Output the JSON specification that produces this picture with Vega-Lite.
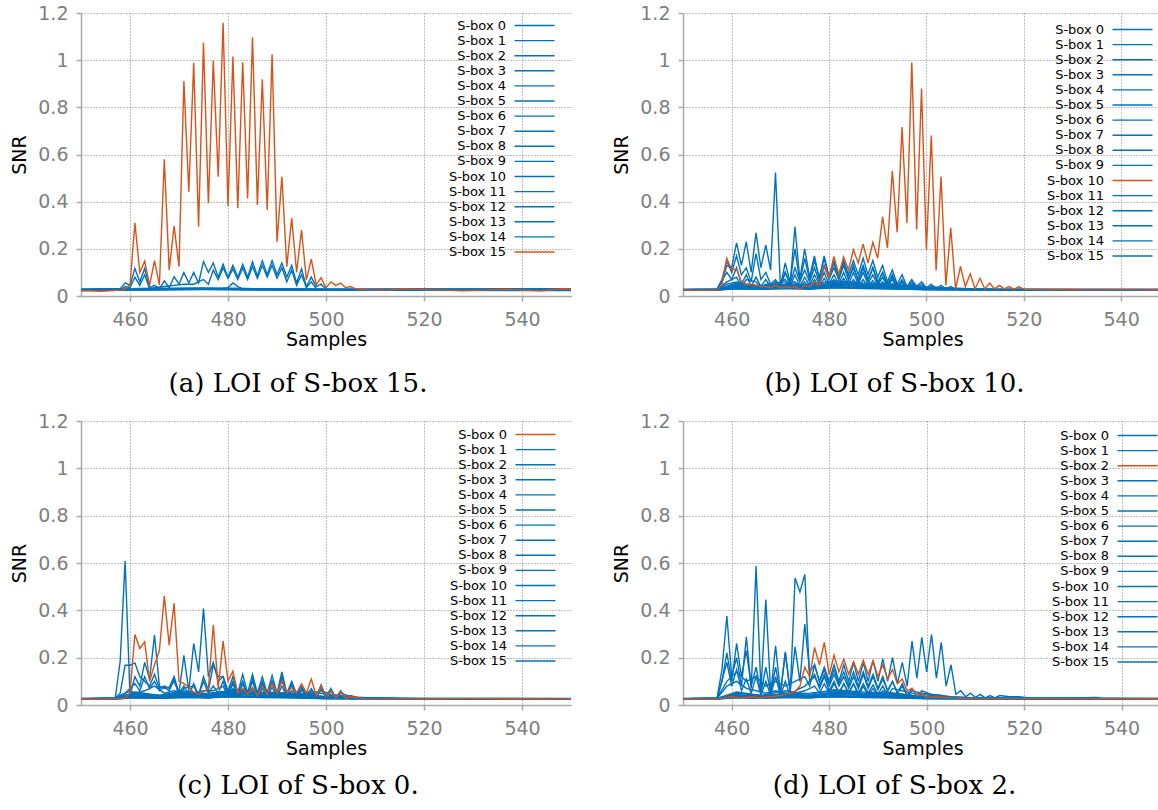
{
"$schema": "https://vega.github.io/schema/vega-lite/v6.json",
"padding": {"left": 10, "top": 4, "right": 0, "bottom": 0},
"config": {
"view": {"stroke": null},
"font": "DejaVu Sans",
"line": {"strokeWidth": 1.4, "clip": true},
"axis": {"labelFont": "DejaVu Sans", "labelFontSize": 19, "labelColor": "#808080", "titleFont": "DejaVu Sans", "titleFontSize": 19, "titleFontWeight": "normal", "titleColor": "#000000", "gridColor": "#808080", "gridDash": [1, 2], "gridWidth": 1, "domainColor": "#aaaaaa", "domainWidth": 1.5, "tickColor": "#aaaaaa", "tickSize": 5, "tickWidth": 1.5, "labelFlush": false, "labelOverlap": false},
"axisX": {"labelPadding": 9, "titlePadding": 1},
"axisY": {"labelPadding": 8, "titlePadding": 8},
"title": {"orient": "bottom", "font": "DejaVu Serif", "fontSize": 26, "fontWeight": "normal", "color": "#000000", "offset": 22, "frame": "group", "anchor": "middle"},
"legend": {"symbolType": "M-4,0L4,0", "symbolSize": 100, "symbolStrokeWidth": 1.5, "labelAlign": "right", "labelOffset": -35, "labelFontSize": 13, "labelFont": "DejaVu Sans", "labelColor": "#000000", "rowPadding": 1.1, "padding": 0}
},
"datasets": {
"a": [
{"s":0,"x":450,"y":0.028},{"s":0,"x":462,"y":0.03},{"s":0,"x":475,"y":0.031},{"s":0,"x":488,"y":0.029},{"s":0,"x":500,"y":0.027},{"s":0,"x":525,"y":0.028},{"s":0,"x":550,"y":0.027},
{"s":1,"x":450,"y":0.026},{"s":1,"x":462,"y":0.028},{"s":1,"x":475,"y":0.03},{"s":1,"x":488,"y":0.028},{"s":1,"x":500,"y":0.026},{"s":1,"x":525,"y":0.027},{"s":1,"x":550,"y":0.026},
{"s":2,"x":450,"y":0.025},{"s":2,"x":470,"y":0.028},{"s":2,"x":478,"y":0.03},{"s":2,"x":480,"y":0.035},{"s":2,"x":481,"y":0.055},{"s":2,"x":482,"y":0.04},{"s":2,"x":483,"y":0.03},{"s":2,"x":490,"y":0.028},{"s":2,"x":510,"y":0.027},{"s":2,"x":530,"y":0.026},{"s":2,"x":550,"y":0.027},
{"s":3,"x":450,"y":0.024},{"s":3,"x":462,"y":0.026},{"s":3,"x":475,"y":0.028},{"s":3,"x":488,"y":0.027},{"s":3,"x":500,"y":0.025},{"s":3,"x":525,"y":0.026},{"s":3,"x":550,"y":0.024},
{"s":4,"x":450,"y":0.027},{"s":4,"x":462,"y":0.032},{"s":4,"x":475,"y":0.033},{"s":4,"x":488,"y":0.03},{"s":4,"x":500,"y":0.028},{"s":4,"x":525,"y":0.027},{"s":4,"x":550,"y":0.028},
{"s":5,"x":450,"y":0.025},{"s":5,"x":462,"y":0.027},{"s":5,"x":475,"y":0.029},{"s":5,"x":488,"y":0.027},{"s":5,"x":500,"y":0.025},{"s":5,"x":525,"y":0.025},{"s":5,"x":550,"y":0.026},
{"s":6,"x":450,"y":0.028},{"s":6,"x":455,"y":0.028},{"s":6,"x":458,"y":0.03},{"s":6,"x":459,"y":0.056},{"s":6,"x":460,"y":0.045},{"s":6,"x":461,"y":0.117},{"s":6,"x":462,"y":0.06},{"s":6,"x":463,"y":0.117},{"s":6,"x":464,"y":0.035},{"s":6,"x":465,"y":0.045},{"s":6,"x":466,"y":0.03},{"s":6,"x":467,"y":0.065},{"s":6,"x":468,"y":0.035},{"s":6,"x":469,"y":0.082},{"s":6,"x":470,"y":0.05},{"s":6,"x":471,"y":0.1},{"s":6,"x":472,"y":0.055},{"s":6,"x":473,"y":0.1},{"s":6,"x":474,"y":0.055},{"s":6,"x":475,"y":0.146},{"s":6,"x":476,"y":0.1},{"s":6,"x":477,"y":0.14},{"s":6,"x":478,"y":0.08},{"s":6,"x":479,"y":0.135},{"s":6,"x":480,"y":0.08},{"s":6,"x":481,"y":0.13},{"s":6,"x":482,"y":0.08},{"s":6,"x":483,"y":0.135},{"s":6,"x":484,"y":0.08},{"s":6,"x":485,"y":0.145},{"s":6,"x":486,"y":0.085},{"s":6,"x":487,"y":0.15},{"s":6,"x":488,"y":0.09},{"s":6,"x":489,"y":0.15},{"s":6,"x":490,"y":0.09},{"s":6,"x":491,"y":0.14},{"s":6,"x":492,"y":0.08},{"s":6,"x":493,"y":0.13},{"s":6,"x":494,"y":0.055},{"s":6,"x":495,"y":0.115},{"s":6,"x":496,"y":0.04},{"s":6,"x":497,"y":0.08},{"s":6,"x":498,"y":0.04},{"s":6,"x":499,"y":0.05},{"s":6,"x":500,"y":0.03},{"s":6,"x":505,"y":0.028},{"s":6,"x":520,"y":0.03},{"s":6,"x":535,"y":0.028},{"s":6,"x":550,"y":0.03},
{"s":7,"x":450,"y":0.029},{"s":7,"x":462,"y":0.03},{"s":7,"x":475,"y":0.032},{"s":7,"x":488,"y":0.031},{"s":7,"x":500,"y":0.029},{"s":7,"x":525,"y":0.029},{"s":7,"x":550,"y":0.03},
{"s":8,"x":450,"y":0.023},{"s":8,"x":462,"y":0.025},{"s":8,"x":475,"y":0.027},{"s":8,"x":488,"y":0.025},{"s":8,"x":500,"y":0.024},{"s":8,"x":525,"y":0.024},{"s":8,"x":550,"y":0.023},
{"s":9,"x":450,"y":0.027},{"s":9,"x":462,"y":0.029},{"s":9,"x":475,"y":0.03},{"s":9,"x":488,"y":0.028},{"s":9,"x":500,"y":0.027},{"s":9,"x":525,"y":0.028},{"s":9,"x":550,"y":0.027},
{"s":10,"x":450,"y":0.025},{"s":10,"x":462,"y":0.028},{"s":10,"x":475,"y":0.03},{"s":10,"x":488,"y":0.029},{"s":10,"x":500,"y":0.026},{"s":10,"x":525,"y":0.026},{"s":10,"x":550,"y":0.025},
{"s":11,"x":450,"y":0.026},{"s":11,"x":458,"y":0.026},{"s":11,"x":459,"y":0.04},{"s":11,"x":460,"y":0.035},{"s":11,"x":461,"y":0.08},{"s":11,"x":462,"y":0.045},{"s":11,"x":463,"y":0.09},{"s":11,"x":464,"y":0.03},{"s":11,"x":465,"y":0.035},{"s":11,"x":467,"y":0.04},{"s":11,"x":469,"y":0.045},{"s":11,"x":471,"y":0.05},{"s":11,"x":473,"y":0.05},{"s":11,"x":475,"y":0.07},{"s":11,"x":476,"y":0.05},{"s":11,"x":477,"y":0.11},{"s":11,"x":478,"y":0.07},{"s":11,"x":479,"y":0.12},{"s":11,"x":480,"y":0.075},{"s":11,"x":481,"y":0.115},{"s":11,"x":482,"y":0.07},{"s":11,"x":483,"y":0.12},{"s":11,"x":484,"y":0.07},{"s":11,"x":485,"y":0.125},{"s":11,"x":486,"y":0.075},{"s":11,"x":487,"y":0.13},{"s":11,"x":488,"y":0.08},{"s":11,"x":489,"y":0.13},{"s":11,"x":490,"y":0.075},{"s":11,"x":491,"y":0.12},{"s":11,"x":492,"y":0.06},{"s":11,"x":493,"y":0.11},{"s":11,"x":494,"y":0.045},{"s":11,"x":495,"y":0.09},{"s":11,"x":496,"y":0.035},{"s":11,"x":497,"y":0.06},{"s":11,"x":498,"y":0.03},{"s":11,"x":500,"y":0.028},{"s":11,"x":520,"y":0.027},{"s":11,"x":550,"y":0.028},
{"s":12,"x":450,"y":0.026},{"s":12,"x":462,"y":0.03},{"s":12,"x":475,"y":0.031},{"s":12,"x":488,"y":0.03},{"s":12,"x":500,"y":0.027},{"s":12,"x":525,"y":0.028},{"s":12,"x":550,"y":0.027},
{"s":13,"x":450,"y":0.024},{"s":13,"x":462,"y":0.027},{"s":13,"x":475,"y":0.029},{"s":13,"x":488,"y":0.027},{"s":13,"x":500,"y":0.025},{"s":13,"x":525,"y":0.025},{"s":13,"x":550,"y":0.025},
{"s":14,"x":450,"y":0.028},{"s":14,"x":462,"y":0.031},{"s":14,"x":475,"y":0.033},{"s":14,"x":488,"y":0.03},{"s":14,"x":500,"y":0.028},{"s":14,"x":525,"y":0.027},{"s":14,"x":550,"y":0.028},
{"s":15,"x":450,"y":0.022},{"s":15,"x":452,"y":0.022},{"s":15,"x":454,"y":0.02},{"s":15,"x":456,"y":0.022},{"s":15,"x":458,"y":0.025},{"s":15,"x":459,"y":0.03},{"s":15,"x":460,"y":0.047},{"s":15,"x":461,"y":0.31},{"s":15,"x":462,"y":0.1},{"s":15,"x":463,"y":0.148},{"s":15,"x":464,"y":0.045},{"s":15,"x":465,"y":0.15},{"s":15,"x":466,"y":0.047},{"s":15,"x":467,"y":0.58},{"s":15,"x":468,"y":0.11},{"s":15,"x":469,"y":0.297},{"s":15,"x":470,"y":0.124},{"s":15,"x":471,"y":0.912},{"s":15,"x":472,"y":0.442},{"s":15,"x":473,"y":0.989},{"s":15,"x":474,"y":0.294},{"s":15,"x":475,"y":1.074},{"s":15,"x":476,"y":0.393},{"s":15,"x":477,"y":0.997},{"s":15,"x":478,"y":0.506},{"s":15,"x":479,"y":1.159},{"s":15,"x":480,"y":0.382},{"s":15,"x":481,"y":1.015},{"s":15,"x":482,"y":0.372},{"s":15,"x":483,"y":0.991},{"s":15,"x":484,"y":0.414},{"s":15,"x":485,"y":1.097},{"s":15,"x":486,"y":0.386},{"s":15,"x":487,"y":0.919},{"s":15,"x":488,"y":0.365},{"s":15,"x":489,"y":1.025},{"s":15,"x":490,"y":0.23},{"s":15,"x":491,"y":0.506},{"s":15,"x":492,"y":0.124},{"s":15,"x":493,"y":0.33},{"s":15,"x":494,"y":0.1},{"s":15,"x":495,"y":0.28},{"s":15,"x":496,"y":0.068},{"s":15,"x":497,"y":0.156},{"s":15,"x":498,"y":0.047},{"s":15,"x":499,"y":0.078},{"s":15,"x":500,"y":0.035},{"s":15,"x":501,"y":0.06},{"s":15,"x":502,"y":0.045},{"s":15,"x":503,"y":0.055},{"s":15,"x":504,"y":0.035},{"s":15,"x":505,"y":0.04},{"s":15,"x":506,"y":0.03},{"s":15,"x":508,"y":0.027},{"s":15,"x":512,"y":0.025},{"s":15,"x":516,"y":0.03},{"s":15,"x":520,"y":0.027},{"s":15,"x":524,"y":0.025},{"s":15,"x":528,"y":0.022},{"s":15,"x":532,"y":0.025},{"s":15,"x":536,"y":0.028},{"s":15,"x":540,"y":0.025},{"s":15,"x":544,"y":0.022},{"s":15,"x":548,"y":0.03},{"s":15,"x":550,"y":0.03}
],
"b": [
{"s":0,"x":450,"y":0.026},{"s":0,"x":457,"y":0.027},{"s":0,"x":461,"y":0.045},{"s":0,"x":466,"y":0.035},{"s":0,"x":471,"y":0.05},{"s":0,"x":476,"y":0.04},{"s":0,"x":481,"y":0.055},{"s":0,"x":487,"y":0.045},{"s":0,"x":493,"y":0.05},{"s":0,"x":500,"y":0.032},{"s":0,"x":515,"y":0.027},{"s":0,"x":550,"y":0.027},
{"s":1,"x":450,"y":0.028},{"s":1,"x":457,"y":0.03},{"s":1,"x":458,"y":0.06},{"s":1,"x":459,"y":0.13},{"s":1,"x":460,"y":0.12},{"s":1,"x":461,"y":0.225},{"s":1,"x":462,"y":0.13},{"s":1,"x":463,"y":0.23},{"s":1,"x":464,"y":0.1},{"s":1,"x":465,"y":0.268},{"s":1,"x":466,"y":0.12},{"s":1,"x":467,"y":0.216},{"s":1,"x":468,"y":0.11},{"s":1,"x":469,"y":0.524},{"s":1,"x":470,"y":0.05},{"s":1,"x":471,"y":0.1},{"s":1,"x":472,"y":0.05},{"s":1,"x":473,"y":0.293},{"s":1,"x":474,"y":0.07},{"s":1,"x":475,"y":0.2},{"s":1,"x":476,"y":0.08},{"s":1,"x":477,"y":0.17},{"s":1,"x":478,"y":0.07},{"s":1,"x":479,"y":0.17},{"s":1,"x":480,"y":0.08},{"s":1,"x":481,"y":0.15},{"s":1,"x":482,"y":0.07},{"s":1,"x":483,"y":0.14},{"s":1,"x":484,"y":0.07},{"s":1,"x":485,"y":0.13},{"s":1,"x":486,"y":0.06},{"s":1,"x":487,"y":0.12},{"s":1,"x":488,"y":0.06},{"s":1,"x":489,"y":0.12},{"s":1,"x":490,"y":0.05},{"s":1,"x":491,"y":0.1},{"s":1,"x":492,"y":0.04},{"s":1,"x":493,"y":0.08},{"s":1,"x":494,"y":0.035},{"s":1,"x":495,"y":0.06},{"s":1,"x":496,"y":0.03},{"s":1,"x":497,"y":0.05},{"s":1,"x":498,"y":0.03},{"s":1,"x":500,"y":0.03},{"s":1,"x":510,"y":0.028},{"s":1,"x":530,"y":0.027},{"s":1,"x":550,"y":0.028},
{"s":2,"x":450,"y":0.025},{"s":2,"x":457,"y":0.026},{"s":2,"x":461,"y":0.04},{"s":2,"x":466,"y":0.03},{"s":2,"x":471,"y":0.04},{"s":2,"x":476,"y":0.035},{"s":2,"x":481,"y":0.045},{"s":2,"x":487,"y":0.04},{"s":2,"x":493,"y":0.04},{"s":2,"x":500,"y":0.03},{"s":2,"x":515,"y":0.026},{"s":2,"x":550,"y":0.026},
{"s":3,"x":450,"y":0.027},{"s":3,"x":457,"y":0.028},{"s":3,"x":461,"y":0.05},{"s":3,"x":466,"y":0.04},{"s":3,"x":471,"y":0.045},{"s":3,"x":476,"y":0.05},{"s":3,"x":481,"y":0.06},{"s":3,"x":487,"y":0.05},{"s":3,"x":493,"y":0.045},{"s":3,"x":500,"y":0.035},{"s":3,"x":515,"y":0.028},{"s":3,"x":550,"y":0.027},
{"s":4,"x":450,"y":0.027},{"s":4,"x":457,"y":0.03},{"s":4,"x":458,"y":0.07},{"s":4,"x":459,"y":0.15},{"s":4,"x":460,"y":0.1},{"s":4,"x":461,"y":0.17},{"s":4,"x":462,"y":0.09},{"s":4,"x":463,"y":0.12},{"s":4,"x":464,"y":0.06},{"s":4,"x":465,"y":0.18},{"s":4,"x":466,"y":0.07},{"s":4,"x":467,"y":0.1},{"s":4,"x":468,"y":0.05},{"s":4,"x":469,"y":0.07},{"s":4,"x":470,"y":0.04},{"s":4,"x":471,"y":0.14},{"s":4,"x":472,"y":0.06},{"s":4,"x":473,"y":0.2},{"s":4,"x":474,"y":0.06},{"s":4,"x":475,"y":0.16},{"s":4,"x":476,"y":0.07},{"s":4,"x":477,"y":0.15},{"s":4,"x":478,"y":0.08},{"s":4,"x":479,"y":0.16},{"s":4,"x":480,"y":0.08},{"s":4,"x":481,"y":0.14},{"s":4,"x":482,"y":0.08},{"s":4,"x":483,"y":0.15},{"s":4,"x":484,"y":0.09},{"s":4,"x":485,"y":0.15},{"s":4,"x":486,"y":0.09},{"s":4,"x":487,"y":0.16},{"s":4,"x":488,"y":0.09},{"s":4,"x":489,"y":0.15},{"s":4,"x":490,"y":0.08},{"s":4,"x":491,"y":0.13},{"s":4,"x":492,"y":0.06},{"s":4,"x":493,"y":0.11},{"s":4,"x":494,"y":0.05},{"s":4,"x":495,"y":0.09},{"s":4,"x":496,"y":0.04},{"s":4,"x":497,"y":0.07},{"s":4,"x":498,"y":0.04},{"s":4,"x":499,"y":0.06},{"s":4,"x":500,"y":0.035},{"s":4,"x":501,"y":0.05},{"s":4,"x":502,"y":0.03},{"s":4,"x":503,"y":0.045},{"s":4,"x":504,"y":0.03},{"s":4,"x":505,"y":0.04},{"s":4,"x":506,"y":0.028},{"s":4,"x":510,"y":0.028},{"s":4,"x":550,"y":0.028},
{"s":5,"x":450,"y":0.026},{"s":5,"x":457,"y":0.026},{"s":5,"x":461,"y":0.035},{"s":5,"x":466,"y":0.03},{"s":5,"x":471,"y":0.035},{"s":5,"x":476,"y":0.03},{"s":5,"x":481,"y":0.04},{"s":5,"x":487,"y":0.035},{"s":5,"x":493,"y":0.035},{"s":5,"x":500,"y":0.028},{"s":5,"x":515,"y":0.026},{"s":5,"x":550,"y":0.027},
{"s":6,"x":450,"y":0.024},{"s":6,"x":457,"y":0.025},{"s":6,"x":461,"y":0.03},{"s":6,"x":466,"y":0.028},{"s":6,"x":471,"y":0.03},{"s":6,"x":476,"y":0.03},{"s":6,"x":481,"y":0.035},{"s":6,"x":487,"y":0.032},{"s":6,"x":493,"y":0.03},{"s":6,"x":500,"y":0.026},{"s":6,"x":515,"y":0.025},{"s":6,"x":550,"y":0.025},
{"s":7,"x":450,"y":0.027},{"s":7,"x":457,"y":0.028},{"s":7,"x":459,"y":0.1},{"s":7,"x":460,"y":0.07},{"s":7,"x":461,"y":0.12},{"s":7,"x":462,"y":0.05},{"s":7,"x":463,"y":0.09},{"s":7,"x":464,"y":0.04},{"s":7,"x":465,"y":0.08},{"s":7,"x":466,"y":0.04},{"s":7,"x":467,"y":0.07},{"s":7,"x":468,"y":0.04},{"s":7,"x":469,"y":0.06},{"s":7,"x":470,"y":0.035},{"s":7,"x":471,"y":0.1},{"s":7,"x":472,"y":0.05},{"s":7,"x":473,"y":0.12},{"s":7,"x":474,"y":0.06},{"s":7,"x":475,"y":0.11},{"s":7,"x":476,"y":0.06},{"s":7,"x":477,"y":0.12},{"s":7,"x":478,"y":0.06},{"s":7,"x":479,"y":0.13},{"s":7,"x":480,"y":0.07},{"s":7,"x":481,"y":0.12},{"s":7,"x":482,"y":0.07},{"s":7,"x":483,"y":0.13},{"s":7,"x":484,"y":0.07},{"s":7,"x":485,"y":0.12},{"s":7,"x":486,"y":0.07},{"s":7,"x":487,"y":0.13},{"s":7,"x":488,"y":0.07},{"s":7,"x":489,"y":0.12},{"s":7,"x":490,"y":0.06},{"s":7,"x":491,"y":0.1},{"s":7,"x":492,"y":0.05},{"s":7,"x":493,"y":0.09},{"s":7,"x":494,"y":0.04},{"s":7,"x":495,"y":0.07},{"s":7,"x":496,"y":0.035},{"s":7,"x":497,"y":0.06},{"s":7,"x":498,"y":0.03},{"s":7,"x":499,"y":0.05},{"s":7,"x":500,"y":0.03},{"s":7,"x":501,"y":0.04},{"s":7,"x":503,"y":0.035},{"s":7,"x":505,"y":0.03},{"s":7,"x":510,"y":0.027},{"s":7,"x":550,"y":0.027},
{"s":8,"x":450,"y":0.028},{"s":8,"x":457,"y":0.028},{"s":8,"x":461,"y":0.055},{"s":8,"x":466,"y":0.04},{"s":8,"x":471,"y":0.06},{"s":8,"x":476,"y":0.045},{"s":8,"x":481,"y":0.065},{"s":8,"x":487,"y":0.055},{"s":8,"x":493,"y":0.05},{"s":8,"x":500,"y":0.035},{"s":8,"x":515,"y":0.028},{"s":8,"x":550,"y":0.028},
{"s":9,"x":450,"y":0.025},{"s":9,"x":457,"y":0.026},{"s":9,"x":461,"y":0.038},{"s":9,"x":466,"y":0.034},{"s":9,"x":471,"y":0.042},{"s":9,"x":476,"y":0.036},{"s":9,"x":481,"y":0.05},{"s":9,"x":487,"y":0.042},{"s":9,"x":493,"y":0.038},{"s":9,"x":500,"y":0.03},{"s":9,"x":515,"y":0.026},{"s":9,"x":550,"y":0.026},
{"s":11,"x":450,"y":0.027},{"s":11,"x":457,"y":0.027},{"s":11,"x":461,"y":0.033},{"s":11,"x":466,"y":0.03},{"s":11,"x":471,"y":0.036},{"s":11,"x":476,"y":0.032},{"s":11,"x":481,"y":0.038},{"s":11,"x":487,"y":0.034},{"s":11,"x":493,"y":0.032},{"s":11,"x":500,"y":0.028},{"s":11,"x":515,"y":0.027},{"s":11,"x":550,"y":0.027},
{"s":12,"x":450,"y":0.027},{"s":12,"x":457,"y":0.027},{"s":12,"x":459,"y":0.06},{"s":12,"x":461,"y":0.08},{"s":12,"x":462,"y":0.04},{"s":12,"x":463,"y":0.07},{"s":12,"x":465,"y":0.06},{"s":12,"x":466,"y":0.035},{"s":12,"x":467,"y":0.05},{"s":12,"x":469,"y":0.05},{"s":12,"x":471,"y":0.07},{"s":12,"x":472,"y":0.04},{"s":12,"x":473,"y":0.09},{"s":12,"x":474,"y":0.04},{"s":12,"x":475,"y":0.08},{"s":12,"x":476,"y":0.045},{"s":12,"x":477,"y":0.09},{"s":12,"x":478,"y":0.05},{"s":12,"x":479,"y":0.1},{"s":12,"x":480,"y":0.05},{"s":12,"x":481,"y":0.09},{"s":12,"x":482,"y":0.05},{"s":12,"x":483,"y":0.1},{"s":12,"x":484,"y":0.05},{"s":12,"x":485,"y":0.1},{"s":12,"x":486,"y":0.05},{"s":12,"x":487,"y":0.1},{"s":12,"x":488,"y":0.05},{"s":12,"x":489,"y":0.09},{"s":12,"x":490,"y":0.045},{"s":12,"x":491,"y":0.08},{"s":12,"x":492,"y":0.04},{"s":12,"x":493,"y":0.07},{"s":12,"x":494,"y":0.035},{"s":12,"x":495,"y":0.06},{"s":12,"x":496,"y":0.03},{"s":12,"x":497,"y":0.05},{"s":12,"x":499,"y":0.04},{"s":12,"x":501,"y":0.035},{"s":12,"x":505,"y":0.03},{"s":12,"x":515,"y":0.027},{"s":12,"x":550,"y":0.027},
{"s":13,"x":450,"y":0.026},{"s":13,"x":457,"y":0.027},{"s":13,"x":461,"y":0.042},{"s":13,"x":466,"y":0.036},{"s":13,"x":471,"y":0.048},{"s":13,"x":476,"y":0.038},{"s":13,"x":481,"y":0.052},{"s":13,"x":487,"y":0.046},{"s":13,"x":493,"y":0.044},{"s":13,"x":500,"y":0.031},{"s":13,"x":515,"y":0.027},{"s":13,"x":550,"y":0.026},
{"s":14,"x":450,"y":0.026},{"s":14,"x":457,"y":0.027},{"s":14,"x":459,"y":0.05},{"s":14,"x":461,"y":0.06},{"s":14,"x":463,"y":0.05},{"s":14,"x":465,"y":0.045},{"s":14,"x":467,"y":0.04},{"s":14,"x":469,"y":0.04},{"s":14,"x":471,"y":0.05},{"s":14,"x":473,"y":0.06},{"s":14,"x":474,"y":0.035},{"s":14,"x":475,"y":0.06},{"s":14,"x":476,"y":0.035},{"s":14,"x":477,"y":0.07},{"s":14,"x":478,"y":0.04},{"s":14,"x":479,"y":0.075},{"s":14,"x":480,"y":0.04},{"s":14,"x":481,"y":0.07},{"s":14,"x":482,"y":0.04},{"s":14,"x":483,"y":0.075},{"s":14,"x":484,"y":0.04},{"s":14,"x":485,"y":0.07},{"s":14,"x":486,"y":0.04},{"s":14,"x":487,"y":0.07},{"s":14,"x":488,"y":0.04},{"s":14,"x":489,"y":0.065},{"s":14,"x":490,"y":0.035},{"s":14,"x":491,"y":0.06},{"s":14,"x":492,"y":0.035},{"s":14,"x":493,"y":0.05},{"s":14,"x":495,"y":0.045},{"s":14,"x":497,"y":0.04},{"s":14,"x":500,"y":0.03},{"s":14,"x":505,"y":0.028},{"s":14,"x":550,"y":0.027},
{"s":15,"x":450,"y":0.025},{"s":15,"x":457,"y":0.025},{"s":15,"x":461,"y":0.032},{"s":15,"x":466,"y":0.029},{"s":15,"x":471,"y":0.034},{"s":15,"x":476,"y":0.031},{"s":15,"x":481,"y":0.036},{"s":15,"x":487,"y":0.033},{"s":15,"x":493,"y":0.031},{"s":15,"x":500,"y":0.027},{"s":15,"x":515,"y":0.025},{"s":15,"x":550,"y":0.025},
{"s":10,"x":450,"y":0.025},{"s":10,"x":454,"y":0.024},{"s":10,"x":457,"y":0.026},{"s":10,"x":458,"y":0.047},{"s":10,"x":459,"y":0.16},{"s":10,"x":460,"y":0.11},{"s":10,"x":461,"y":0.114},{"s":10,"x":462,"y":0.06},{"s":10,"x":463,"y":0.05},{"s":10,"x":464,"y":0.05},{"s":10,"x":465,"y":0.045},{"s":10,"x":466,"y":0.04},{"s":10,"x":467,"y":0.04},{"s":10,"x":468,"y":0.035},{"s":10,"x":469,"y":0.045},{"s":10,"x":470,"y":0.035},{"s":10,"x":471,"y":0.04},{"s":10,"x":472,"y":0.035},{"s":10,"x":473,"y":0.04},{"s":10,"x":474,"y":0.028},{"s":10,"x":475,"y":0.045},{"s":10,"x":476,"y":0.04},{"s":10,"x":477,"y":0.061},{"s":10,"x":478,"y":0.046},{"s":10,"x":479,"y":0.125},{"s":10,"x":480,"y":0.08},{"s":10,"x":481,"y":0.168},{"s":10,"x":482,"y":0.093},{"s":10,"x":483,"y":0.165},{"s":10,"x":484,"y":0.11},{"s":10,"x":485,"y":0.196},{"s":10,"x":486,"y":0.14},{"s":10,"x":487,"y":0.22},{"s":10,"x":488,"y":0.14},{"s":10,"x":489,"y":0.227},{"s":10,"x":490,"y":0.16},{"s":10,"x":491,"y":0.336},{"s":10,"x":492,"y":0.204},{"s":10,"x":493,"y":0.53},{"s":10,"x":494,"y":0.27},{"s":10,"x":495,"y":0.716},{"s":10,"x":496,"y":0.31},{"s":10,"x":497,"y":0.99},{"s":10,"x":498,"y":0.282},{"s":10,"x":499,"y":0.88},{"s":10,"x":500,"y":0.196},{"s":10,"x":501,"y":0.68},{"s":10,"x":502,"y":0.108},{"s":10,"x":503,"y":0.507},{"s":10,"x":504,"y":0.045},{"s":10,"x":505,"y":0.289},{"s":10,"x":506,"y":0.03},{"s":10,"x":507,"y":0.125},{"s":10,"x":508,"y":0.04},{"s":10,"x":509,"y":0.094},{"s":10,"x":510,"y":0.03},{"s":10,"x":511,"y":0.075},{"s":10,"x":512,"y":0.03},{"s":10,"x":513,"y":0.055},{"s":10,"x":514,"y":0.03},{"s":10,"x":515,"y":0.045},{"s":10,"x":516,"y":0.03},{"s":10,"x":517,"y":0.04},{"s":10,"x":518,"y":0.028},{"s":10,"x":519,"y":0.04},{"s":10,"x":520,"y":0.028},{"s":10,"x":525,"y":0.027},{"s":10,"x":530,"y":0.028},{"s":10,"x":535,"y":0.026},{"s":10,"x":540,"y":0.027},{"s":10,"x":545,"y":0.026},{"s":10,"x":550,"y":0.027}
],
"c": [
{"s":1,"x":450,"y":0.027},{"s":1,"x":457,"y":0.03},{"s":1,"x":458,"y":0.186},{"s":1,"x":459,"y":0.608},{"s":1,"x":460,"y":0.04},{"s":1,"x":461,"y":0.12},{"s":1,"x":462,"y":0.08},{"s":1,"x":463,"y":0.18},{"s":1,"x":464,"y":0.11},{"s":1,"x":465,"y":0.295},{"s":1,"x":466,"y":0.08},{"s":1,"x":467,"y":0.07},{"s":1,"x":468,"y":0.075},{"s":1,"x":469,"y":0.12},{"s":1,"x":470,"y":0.05},{"s":1,"x":471,"y":0.21},{"s":1,"x":472,"y":0.06},{"s":1,"x":473,"y":0.26},{"s":1,"x":474,"y":0.14},{"s":1,"x":475,"y":0.408},{"s":1,"x":476,"y":0.12},{"s":1,"x":477,"y":0.18},{"s":1,"x":478,"y":0.1},{"s":1,"x":479,"y":0.12},{"s":1,"x":480,"y":0.06},{"s":1,"x":481,"y":0.12},{"s":1,"x":482,"y":0.05},{"s":1,"x":483,"y":0.13},{"s":1,"x":484,"y":0.05},{"s":1,"x":485,"y":0.13},{"s":1,"x":486,"y":0.05},{"s":1,"x":487,"y":0.12},{"s":1,"x":488,"y":0.05},{"s":1,"x":489,"y":0.125},{"s":1,"x":490,"y":0.05},{"s":1,"x":491,"y":0.14},{"s":1,"x":492,"y":0.05},{"s":1,"x":493,"y":0.1},{"s":1,"x":494,"y":0.045},{"s":1,"x":495,"y":0.08},{"s":1,"x":496,"y":0.04},{"s":1,"x":497,"y":0.07},{"s":1,"x":498,"y":0.035},{"s":1,"x":499,"y":0.085},{"s":1,"x":500,"y":0.035},{"s":1,"x":501,"y":0.07},{"s":1,"x":502,"y":0.03},{"s":1,"x":503,"y":0.06},{"s":1,"x":504,"y":0.03},{"s":1,"x":505,"y":0.04},{"s":1,"x":507,"y":0.028},{"s":1,"x":520,"y":0.027},{"s":1,"x":550,"y":0.027},
{"s":2,"x":450,"y":0.026},{"s":2,"x":457,"y":0.03},{"s":2,"x":458,"y":0.05},{"s":2,"x":459,"y":0.168},{"s":2,"x":460,"y":0.168},{"s":2,"x":461,"y":0.178},{"s":2,"x":462,"y":0.12},{"s":2,"x":463,"y":0.1},{"s":2,"x":464,"y":0.08},{"s":2,"x":465,"y":0.13},{"s":2,"x":466,"y":0.07},{"s":2,"x":467,"y":0.08},{"s":2,"x":468,"y":0.07},{"s":2,"x":469,"y":0.1},{"s":2,"x":470,"y":0.05},{"s":2,"x":471,"y":0.08},{"s":2,"x":472,"y":0.04},{"s":2,"x":473,"y":0.09},{"s":2,"x":474,"y":0.04},{"s":2,"x":475,"y":0.12},{"s":2,"x":476,"y":0.06},{"s":2,"x":477,"y":0.17},{"s":2,"x":478,"y":0.12},{"s":2,"x":479,"y":0.12},{"s":2,"x":480,"y":0.05},{"s":2,"x":481,"y":0.1},{"s":2,"x":482,"y":0.05},{"s":2,"x":483,"y":0.1},{"s":2,"x":484,"y":0.04},{"s":2,"x":485,"y":0.11},{"s":2,"x":486,"y":0.045},{"s":2,"x":487,"y":0.1},{"s":2,"x":488,"y":0.04},{"s":2,"x":489,"y":0.1},{"s":2,"x":490,"y":0.04},{"s":2,"x":491,"y":0.12},{"s":2,"x":492,"y":0.04},{"s":2,"x":493,"y":0.09},{"s":2,"x":494,"y":0.04},{"s":2,"x":495,"y":0.07},{"s":2,"x":496,"y":0.035},{"s":2,"x":497,"y":0.06},{"s":2,"x":498,"y":0.03},{"s":2,"x":499,"y":0.07},{"s":2,"x":500,"y":0.03},{"s":2,"x":501,"y":0.06},{"s":2,"x":502,"y":0.03},{"s":2,"x":503,"y":0.05},{"s":2,"x":505,"y":0.035},{"s":2,"x":507,"y":0.028},{"s":2,"x":520,"y":0.027},{"s":2,"x":550,"y":0.027},
{"s":3,"x":450,"y":0.027},{"s":3,"x":457,"y":0.03},{"s":3,"x":459,"y":0.05},{"s":3,"x":461,"y":0.09},{"s":3,"x":462,"y":0.06},{"s":3,"x":463,"y":0.12},{"s":3,"x":464,"y":0.07},{"s":3,"x":465,"y":0.1},{"s":3,"x":466,"y":0.06},{"s":3,"x":467,"y":0.075},{"s":3,"x":468,"y":0.06},{"s":3,"x":469,"y":0.11},{"s":3,"x":470,"y":0.04},{"s":3,"x":471,"y":0.07},{"s":3,"x":473,"y":0.08},{"s":3,"x":474,"y":0.04},{"s":3,"x":475,"y":0.1},{"s":3,"x":476,"y":0.05},{"s":3,"x":477,"y":0.08},{"s":3,"x":478,"y":0.05},{"s":3,"x":479,"y":0.1},{"s":3,"x":480,"y":0.04},{"s":3,"x":481,"y":0.09},{"s":3,"x":482,"y":0.04},{"s":3,"x":483,"y":0.09},{"s":3,"x":484,"y":0.04},{"s":3,"x":485,"y":0.1},{"s":3,"x":486,"y":0.04},{"s":3,"x":487,"y":0.09},{"s":3,"x":488,"y":0.04},{"s":3,"x":489,"y":0.1},{"s":3,"x":490,"y":0.04},{"s":3,"x":491,"y":0.11},{"s":3,"x":492,"y":0.04},{"s":3,"x":493,"y":0.08},{"s":3,"x":494,"y":0.035},{"s":3,"x":495,"y":0.06},{"s":3,"x":497,"y":0.05},{"s":3,"x":499,"y":0.06},{"s":3,"x":501,"y":0.045},{"s":3,"x":503,"y":0.04},{"s":3,"x":505,"y":0.03},{"s":3,"x":520,"y":0.027},{"s":3,"x":550,"y":0.027},
{"s":4,"x":450,"y":0.026},{"s":4,"x":457,"y":0.028},{"s":4,"x":460,"y":0.06},{"s":4,"x":461,"y":0.05},{"s":4,"x":463,"y":0.06},{"s":4,"x":465,"y":0.08},{"s":4,"x":467,"y":0.05},{"s":4,"x":469,"y":0.06},{"s":4,"x":471,"y":0.05},{"s":4,"x":473,"y":0.05},{"s":4,"x":475,"y":0.06},{"s":4,"x":477,"y":0.06},{"s":4,"x":479,"y":0.08},{"s":4,"x":480,"y":0.04},{"s":4,"x":481,"y":0.07},{"s":4,"x":482,"y":0.04},{"s":4,"x":483,"y":0.07},{"s":4,"x":484,"y":0.035},{"s":4,"x":485,"y":0.07},{"s":4,"x":486,"y":0.035},{"s":4,"x":487,"y":0.07},{"s":4,"x":488,"y":0.035},{"s":4,"x":489,"y":0.075},{"s":4,"x":490,"y":0.035},{"s":4,"x":491,"y":0.08},{"s":4,"x":492,"y":0.035},{"s":4,"x":493,"y":0.06},{"s":4,"x":495,"y":0.05},{"s":4,"x":497,"y":0.045},{"s":4,"x":499,"y":0.05},{"s":4,"x":501,"y":0.04},{"s":4,"x":503,"y":0.035},{"s":4,"x":505,"y":0.03},{"s":4,"x":520,"y":0.027},{"s":4,"x":550,"y":0.027},
{"s":5,"x":450,"y":0.026},{"s":5,"x":457,"y":0.027},{"s":5,"x":461,"y":0.045},{"s":5,"x":466,"y":0.035},{"s":5,"x":471,"y":0.05},{"s":5,"x":476,"y":0.04},{"s":5,"x":481,"y":0.055},{"s":5,"x":487,"y":0.045},{"s":5,"x":493,"y":0.05},{"s":5,"x":500,"y":0.032},{"s":5,"x":515,"y":0.027},{"s":5,"x":550,"y":0.027},
{"s":6,"x":450,"y":0.025},{"s":6,"x":457,"y":0.026},{"s":6,"x":461,"y":0.04},{"s":6,"x":466,"y":0.03},{"s":6,"x":471,"y":0.04},{"s":6,"x":476,"y":0.035},{"s":6,"x":481,"y":0.045},{"s":6,"x":487,"y":0.04},{"s":6,"x":493,"y":0.04},{"s":6,"x":500,"y":0.03},{"s":6,"x":515,"y":0.026},{"s":6,"x":550,"y":0.026},
{"s":7,"x":450,"y":0.027},{"s":7,"x":457,"y":0.028},{"s":7,"x":461,"y":0.05},{"s":7,"x":466,"y":0.04},{"s":7,"x":471,"y":0.045},{"s":7,"x":476,"y":0.05},{"s":7,"x":481,"y":0.06},{"s":7,"x":487,"y":0.05},{"s":7,"x":493,"y":0.045},{"s":7,"x":500,"y":0.035},{"s":7,"x":515,"y":0.028},{"s":7,"x":550,"y":0.027},
{"s":8,"x":450,"y":0.026},{"s":8,"x":457,"y":0.026},{"s":8,"x":461,"y":0.035},{"s":8,"x":466,"y":0.03},{"s":8,"x":471,"y":0.035},{"s":8,"x":476,"y":0.03},{"s":8,"x":481,"y":0.04},{"s":8,"x":487,"y":0.035},{"s":8,"x":493,"y":0.035},{"s":8,"x":500,"y":0.028},{"s":8,"x":515,"y":0.026},{"s":8,"x":550,"y":0.027},
{"s":9,"x":450,"y":0.024},{"s":9,"x":457,"y":0.025},{"s":9,"x":461,"y":0.03},{"s":9,"x":466,"y":0.028},{"s":9,"x":471,"y":0.03},{"s":9,"x":476,"y":0.03},{"s":9,"x":481,"y":0.035},{"s":9,"x":487,"y":0.032},{"s":9,"x":493,"y":0.03},{"s":9,"x":500,"y":0.026},{"s":9,"x":515,"y":0.025},{"s":9,"x":550,"y":0.025},
{"s":10,"x":450,"y":0.028},{"s":10,"x":457,"y":0.028},{"s":10,"x":461,"y":0.055},{"s":10,"x":466,"y":0.04},{"s":10,"x":471,"y":0.06},{"s":10,"x":476,"y":0.045},{"s":10,"x":481,"y":0.065},{"s":10,"x":487,"y":0.055},{"s":10,"x":493,"y":0.05},{"s":10,"x":500,"y":0.035},{"s":10,"x":515,"y":0.028},{"s":10,"x":550,"y":0.028},
{"s":11,"x":450,"y":0.025},{"s":11,"x":457,"y":0.026},{"s":11,"x":461,"y":0.038},{"s":11,"x":466,"y":0.034},{"s":11,"x":471,"y":0.042},{"s":11,"x":476,"y":0.036},{"s":11,"x":481,"y":0.05},{"s":11,"x":487,"y":0.042},{"s":11,"x":493,"y":0.038},{"s":11,"x":500,"y":0.03},{"s":11,"x":515,"y":0.026},{"s":11,"x":550,"y":0.026},
{"s":12,"x":450,"y":0.027},{"s":12,"x":457,"y":0.027},{"s":12,"x":461,"y":0.033},{"s":12,"x":466,"y":0.03},{"s":12,"x":471,"y":0.036},{"s":12,"x":476,"y":0.032},{"s":12,"x":481,"y":0.038},{"s":12,"x":487,"y":0.034},{"s":12,"x":493,"y":0.032},{"s":12,"x":500,"y":0.028},{"s":12,"x":515,"y":0.027},{"s":12,"x":550,"y":0.027},
{"s":13,"x":450,"y":0.026},{"s":13,"x":457,"y":0.027},{"s":13,"x":461,"y":0.042},{"s":13,"x":466,"y":0.036},{"s":13,"x":471,"y":0.048},{"s":13,"x":476,"y":0.038},{"s":13,"x":481,"y":0.052},{"s":13,"x":487,"y":0.046},{"s":13,"x":493,"y":0.044},{"s":13,"x":500,"y":0.031},{"s":13,"x":515,"y":0.027},{"s":13,"x":550,"y":0.026},
{"s":14,"x":450,"y":0.025},{"s":14,"x":457,"y":0.025},{"s":14,"x":461,"y":0.032},{"s":14,"x":466,"y":0.029},{"s":14,"x":471,"y":0.034},{"s":14,"x":476,"y":0.031},{"s":14,"x":481,"y":0.036},{"s":14,"x":487,"y":0.033},{"s":14,"x":493,"y":0.031},{"s":14,"x":500,"y":0.027},{"s":14,"x":515,"y":0.025},{"s":14,"x":550,"y":0.025},
{"s":15,"x":450,"y":0.027},{"s":15,"x":457,"y":0.027},{"s":15,"x":461,"y":0.048},{"s":15,"x":466,"y":0.04},{"s":15,"x":471,"y":0.052},{"s":15,"x":476,"y":0.044},{"s":15,"x":481,"y":0.058},{"s":15,"x":487,"y":0.05},{"s":15,"x":493,"y":0.046},{"s":15,"x":500,"y":0.033},{"s":15,"x":515,"y":0.027},{"s":15,"x":550,"y":0.027},
{"s":0,"x":450,"y":0.025},{"s":0,"x":455,"y":0.025},{"s":0,"x":458,"y":0.027},{"s":0,"x":459,"y":0.03},{"s":0,"x":460,"y":0.05},{"s":0,"x":461,"y":0.298},{"s":0,"x":462,"y":0.239},{"s":0,"x":463,"y":0.267},{"s":0,"x":464,"y":0.1},{"s":0,"x":465,"y":0.17},{"s":0,"x":466,"y":0.23},{"s":0,"x":467,"y":0.46},{"s":0,"x":468,"y":0.253},{"s":0,"x":469,"y":0.43},{"s":0,"x":470,"y":0.1},{"s":0,"x":471,"y":0.09},{"s":0,"x":472,"y":0.075},{"s":0,"x":473,"y":0.053},{"s":0,"x":474,"y":0.045},{"s":0,"x":475,"y":0.056},{"s":0,"x":476,"y":0.07},{"s":0,"x":477,"y":0.338},{"s":0,"x":478,"y":0.07},{"s":0,"x":479,"y":0.27},{"s":0,"x":480,"y":0.1},{"s":0,"x":481,"y":0.143},{"s":0,"x":482,"y":0.05},{"s":0,"x":483,"y":0.07},{"s":0,"x":484,"y":0.045},{"s":0,"x":485,"y":0.075},{"s":0,"x":486,"y":0.04},{"s":0,"x":487,"y":0.08},{"s":0,"x":488,"y":0.045},{"s":0,"x":489,"y":0.09},{"s":0,"x":490,"y":0.05},{"s":0,"x":491,"y":0.1},{"s":0,"x":492,"y":0.05},{"s":0,"x":493,"y":0.075},{"s":0,"x":494,"y":0.05},{"s":0,"x":495,"y":0.09},{"s":0,"x":496,"y":0.05},{"s":0,"x":497,"y":0.11},{"s":0,"x":498,"y":0.04},{"s":0,"x":499,"y":0.08},{"s":0,"x":500,"y":0.035},{"s":0,"x":501,"y":0.06},{"s":0,"x":502,"y":0.03},{"s":0,"x":503,"y":0.056},{"s":0,"x":504,"y":0.03},{"s":0,"x":505,"y":0.035},{"s":0,"x":508,"y":0.027},{"s":0,"x":515,"y":0.026},{"s":0,"x":530,"y":0.027},{"s":0,"x":550,"y":0.026}
],
"d": [
{"s":0,"x":450,"y":0.026},{"s":0,"x":457,"y":0.027},{"s":0,"x":461,"y":0.045},{"s":0,"x":466,"y":0.035},{"s":0,"x":471,"y":0.05},{"s":0,"x":476,"y":0.04},{"s":0,"x":481,"y":0.055},{"s":0,"x":487,"y":0.045},{"s":0,"x":493,"y":0.05},{"s":0,"x":500,"y":0.032},{"s":0,"x":515,"y":0.027},{"s":0,"x":550,"y":0.027},
{"s":1,"x":450,"y":0.025},{"s":1,"x":457,"y":0.026},{"s":1,"x":461,"y":0.04},{"s":1,"x":466,"y":0.03},{"s":1,"x":471,"y":0.04},{"s":1,"x":476,"y":0.035},{"s":1,"x":481,"y":0.045},{"s":1,"x":487,"y":0.04},{"s":1,"x":493,"y":0.04},{"s":1,"x":500,"y":0.03},{"s":1,"x":515,"y":0.026},{"s":1,"x":550,"y":0.026},
{"s":3,"x":450,"y":0.027},{"s":3,"x":457,"y":0.028},{"s":3,"x":461,"y":0.05},{"s":3,"x":466,"y":0.04},{"s":3,"x":471,"y":0.045},{"s":3,"x":476,"y":0.05},{"s":3,"x":481,"y":0.06},{"s":3,"x":487,"y":0.05},{"s":3,"x":493,"y":0.045},{"s":3,"x":500,"y":0.035},{"s":3,"x":515,"y":0.028},{"s":3,"x":550,"y":0.027},
{"s":4,"x":450,"y":0.026},{"s":4,"x":457,"y":0.026},{"s":4,"x":461,"y":0.035},{"s":4,"x":466,"y":0.03},{"s":4,"x":471,"y":0.035},{"s":4,"x":476,"y":0.03},{"s":4,"x":481,"y":0.04},{"s":4,"x":487,"y":0.035},{"s":4,"x":493,"y":0.035},{"s":4,"x":500,"y":0.028},{"s":4,"x":515,"y":0.026},{"s":4,"x":550,"y":0.027},
{"s":5,"x":450,"y":0.027},{"s":5,"x":457,"y":0.03},{"s":5,"x":458,"y":0.1},{"s":5,"x":459,"y":0.22},{"s":5,"x":460,"y":0.1},{"s":5,"x":461,"y":0.26},{"s":5,"x":462,"y":0.12},{"s":5,"x":463,"y":0.23},{"s":5,"x":464,"y":0.08},{"s":5,"x":465,"y":0.16},{"s":5,"x":466,"y":0.05},{"s":5,"x":467,"y":0.16},{"s":5,"x":468,"y":0.05},{"s":5,"x":469,"y":0.16},{"s":5,"x":470,"y":0.05},{"s":5,"x":471,"y":0.22},{"s":5,"x":472,"y":0.06},{"s":5,"x":473,"y":0.246},{"s":5,"x":474,"y":0.1},{"s":5,"x":475,"y":0.342},{"s":5,"x":476,"y":0.14},{"s":5,"x":477,"y":0.17},{"s":5,"x":478,"y":0.1},{"s":5,"x":479,"y":0.15},{"s":5,"x":480,"y":0.09},{"s":5,"x":481,"y":0.15},{"s":5,"x":482,"y":0.09},{"s":5,"x":483,"y":0.14},{"s":5,"x":484,"y":0.08},{"s":5,"x":485,"y":0.14},{"s":5,"x":486,"y":0.08},{"s":5,"x":487,"y":0.14},{"s":5,"x":488,"y":0.08},{"s":5,"x":489,"y":0.13},{"s":5,"x":490,"y":0.07},{"s":5,"x":491,"y":0.12},{"s":5,"x":492,"y":0.06},{"s":5,"x":493,"y":0.1},{"s":5,"x":494,"y":0.05},{"s":5,"x":495,"y":0.08},{"s":5,"x":496,"y":0.04},{"s":5,"x":497,"y":0.06},{"s":5,"x":499,"y":0.05},{"s":5,"x":501,"y":0.045},{"s":5,"x":503,"y":0.04},{"s":5,"x":505,"y":0.035},{"s":5,"x":510,"y":0.03},{"s":5,"x":550,"y":0.027},
{"s":6,"x":450,"y":0.024},{"s":6,"x":457,"y":0.025},{"s":6,"x":461,"y":0.03},{"s":6,"x":466,"y":0.028},{"s":6,"x":471,"y":0.03},{"s":6,"x":476,"y":0.03},{"s":6,"x":481,"y":0.035},{"s":6,"x":487,"y":0.032},{"s":6,"x":493,"y":0.03},{"s":6,"x":500,"y":0.026},{"s":6,"x":515,"y":0.025},{"s":6,"x":550,"y":0.025},
{"s":7,"x":450,"y":0.027},{"s":7,"x":457,"y":0.03},{"s":7,"x":458,"y":0.15},{"s":7,"x":459,"y":0.376},{"s":7,"x":460,"y":0.12},{"s":7,"x":461,"y":0.2},{"s":7,"x":462,"y":0.08},{"s":7,"x":463,"y":0.288},{"s":7,"x":464,"y":0.07},{"s":7,"x":465,"y":0.587},{"s":7,"x":466,"y":0.06},{"s":7,"x":467,"y":0.446},{"s":7,"x":468,"y":0.05},{"s":7,"x":469,"y":0.25},{"s":7,"x":470,"y":0.05},{"s":7,"x":471,"y":0.225},{"s":7,"x":472,"y":0.05},{"s":7,"x":473,"y":0.537},{"s":7,"x":474,"y":0.478},{"s":7,"x":475,"y":0.552},{"s":7,"x":476,"y":0.1},{"s":7,"x":477,"y":0.13},{"s":7,"x":478,"y":0.07},{"s":7,"x":479,"y":0.12},{"s":7,"x":480,"y":0.06},{"s":7,"x":481,"y":0.1},{"s":7,"x":482,"y":0.05},{"s":7,"x":483,"y":0.09},{"s":7,"x":484,"y":0.05},{"s":7,"x":485,"y":0.09},{"s":7,"x":486,"y":0.04},{"s":7,"x":487,"y":0.08},{"s":7,"x":488,"y":0.04},{"s":7,"x":489,"y":0.07},{"s":7,"x":490,"y":0.04},{"s":7,"x":491,"y":0.06},{"s":7,"x":493,"y":0.05},{"s":7,"x":495,"y":0.045},{"s":7,"x":497,"y":0.04},{"s":7,"x":500,"y":0.035},{"s":7,"x":505,"y":0.03},{"s":7,"x":520,"y":0.027},{"s":7,"x":550,"y":0.027},
{"s":8,"x":450,"y":0.028},{"s":8,"x":457,"y":0.028},{"s":8,"x":461,"y":0.055},{"s":8,"x":466,"y":0.04},{"s":8,"x":471,"y":0.06},{"s":8,"x":476,"y":0.045},{"s":8,"x":481,"y":0.065},{"s":8,"x":487,"y":0.055},{"s":8,"x":493,"y":0.05},{"s":8,"x":500,"y":0.035},{"s":8,"x":515,"y":0.028},{"s":8,"x":550,"y":0.028},
{"s":9,"x":450,"y":0.026},{"s":9,"x":457,"y":0.028},{"s":9,"x":459,"y":0.18},{"s":9,"x":460,"y":0.08},{"s":9,"x":461,"y":0.15},{"s":9,"x":462,"y":0.06},{"s":9,"x":463,"y":0.11},{"s":9,"x":464,"y":0.05},{"s":9,"x":465,"y":0.12},{"s":9,"x":466,"y":0.04},{"s":9,"x":467,"y":0.1},{"s":9,"x":468,"y":0.04},{"s":9,"x":469,"y":0.12},{"s":9,"x":470,"y":0.04},{"s":9,"x":471,"y":0.1},{"s":9,"x":472,"y":0.035},{"s":9,"x":473,"y":0.06},{"s":9,"x":475,"y":0.08},{"s":9,"x":477,"y":0.12},{"s":9,"x":478,"y":0.08},{"s":9,"x":479,"y":0.13},{"s":9,"x":480,"y":0.08},{"s":9,"x":481,"y":0.13},{"s":9,"x":482,"y":0.08},{"s":9,"x":483,"y":0.12},{"s":9,"x":484,"y":0.07},{"s":9,"x":485,"y":0.12},{"s":9,"x":486,"y":0.07},{"s":9,"x":487,"y":0.13},{"s":9,"x":488,"y":0.07},{"s":9,"x":489,"y":0.12},{"s":9,"x":490,"y":0.065},{"s":9,"x":491,"y":0.11},{"s":9,"x":492,"y":0.06},{"s":9,"x":493,"y":0.1},{"s":9,"x":494,"y":0.05},{"s":9,"x":495,"y":0.09},{"s":9,"x":496,"y":0.04},{"s":9,"x":497,"y":0.07},{"s":9,"x":498,"y":0.035},{"s":9,"x":499,"y":0.06},{"s":9,"x":501,"y":0.045},{"s":9,"x":503,"y":0.04},{"s":9,"x":505,"y":0.03},{"s":9,"x":520,"y":0.027},{"s":9,"x":550,"y":0.027},
{"s":10,"x":450,"y":0.025},{"s":10,"x":457,"y":0.026},{"s":10,"x":461,"y":0.038},{"s":10,"x":466,"y":0.034},{"s":10,"x":471,"y":0.042},{"s":10,"x":476,"y":0.036},{"s":10,"x":481,"y":0.05},{"s":10,"x":487,"y":0.042},{"s":10,"x":493,"y":0.038},{"s":10,"x":500,"y":0.03},{"s":10,"x":515,"y":0.026},{"s":10,"x":550,"y":0.026},
{"s":11,"x":450,"y":0.026},{"s":11,"x":457,"y":0.03},{"s":11,"x":459,"y":0.1},{"s":11,"x":461,"y":0.14},{"s":11,"x":463,"y":0.1},{"s":11,"x":465,"y":0.12},{"s":11,"x":467,"y":0.08},{"s":11,"x":469,"y":0.1},{"s":11,"x":471,"y":0.08},{"s":11,"x":473,"y":0.1},{"s":11,"x":475,"y":0.12},{"s":11,"x":476,"y":0.08},{"s":11,"x":477,"y":0.17},{"s":11,"x":478,"y":0.1},{"s":11,"x":479,"y":0.16},{"s":11,"x":480,"y":0.1},{"s":11,"x":481,"y":0.17},{"s":11,"x":482,"y":0.1},{"s":11,"x":483,"y":0.17},{"s":11,"x":484,"y":0.1},{"s":11,"x":485,"y":0.18},{"s":11,"x":486,"y":0.1},{"s":11,"x":487,"y":0.18},{"s":11,"x":488,"y":0.1},{"s":11,"x":489,"y":0.19},{"s":11,"x":490,"y":0.1},{"s":11,"x":491,"y":0.195},{"s":11,"x":492,"y":0.1},{"s":11,"x":493,"y":0.2},{"s":11,"x":494,"y":0.09},{"s":11,"x":495,"y":0.18},{"s":11,"x":496,"y":0.08},{"s":11,"x":497,"y":0.27},{"s":11,"x":498,"y":0.113},{"s":11,"x":499,"y":0.286},{"s":11,"x":500,"y":0.14},{"s":11,"x":501,"y":0.298},{"s":11,"x":502,"y":0.113},{"s":11,"x":503,"y":0.265},{"s":11,"x":504,"y":0.08},{"s":11,"x":505,"y":0.17},{"s":11,"x":506,"y":0.045},{"s":11,"x":507,"y":0.06},{"s":11,"x":508,"y":0.035},{"s":11,"x":509,"y":0.05},{"s":11,"x":510,"y":0.032},{"s":11,"x":511,"y":0.045},{"s":11,"x":512,"y":0.03},{"s":11,"x":513,"y":0.04},{"s":11,"x":514,"y":0.03},{"s":11,"x":515,"y":0.04},{"s":11,"x":517,"y":0.035},{"s":11,"x":519,"y":0.035},{"s":11,"x":522,"y":0.028},{"s":11,"x":535,"y":0.032},{"s":11,"x":536,"y":0.027},{"s":11,"x":550,"y":0.027},
{"s":12,"x":450,"y":0.027},{"s":12,"x":457,"y":0.027},{"s":12,"x":461,"y":0.033},{"s":12,"x":466,"y":0.03},{"s":12,"x":471,"y":0.036},{"s":12,"x":476,"y":0.032},{"s":12,"x":481,"y":0.038},{"s":12,"x":487,"y":0.034},{"s":12,"x":493,"y":0.032},{"s":12,"x":500,"y":0.028},{"s":12,"x":515,"y":0.027},{"s":12,"x":550,"y":0.027},
{"s":13,"x":450,"y":0.026},{"s":13,"x":457,"y":0.028},{"s":13,"x":459,"y":0.08},{"s":13,"x":461,"y":0.1},{"s":13,"x":463,"y":0.07},{"s":13,"x":465,"y":0.06},{"s":13,"x":467,"y":0.05},{"s":13,"x":469,"y":0.06},{"s":13,"x":471,"y":0.05},{"s":13,"x":473,"y":0.05},{"s":13,"x":475,"y":0.06},{"s":13,"x":477,"y":0.08},{"s":13,"x":478,"y":0.05},{"s":13,"x":479,"y":0.09},{"s":13,"x":480,"y":0.05},{"s":13,"x":481,"y":0.09},{"s":13,"x":482,"y":0.05},{"s":13,"x":483,"y":0.09},{"s":13,"x":484,"y":0.05},{"s":13,"x":485,"y":0.09},{"s":13,"x":486,"y":0.05},{"s":13,"x":487,"y":0.09},{"s":13,"x":488,"y":0.05},{"s":13,"x":489,"y":0.085},{"s":13,"x":490,"y":0.045},{"s":13,"x":491,"y":0.08},{"s":13,"x":492,"y":0.04},{"s":13,"x":493,"y":0.07},{"s":13,"x":495,"y":0.06},{"s":13,"x":497,"y":0.05},{"s":13,"x":499,"y":0.045},{"s":13,"x":501,"y":0.04},{"s":13,"x":504,"y":0.032},{"s":13,"x":508,"y":0.028},{"s":13,"x":550,"y":0.027},
{"s":14,"x":450,"y":0.026},{"s":14,"x":457,"y":0.027},{"s":14,"x":461,"y":0.042},{"s":14,"x":466,"y":0.036},{"s":14,"x":471,"y":0.048},{"s":14,"x":476,"y":0.038},{"s":14,"x":481,"y":0.052},{"s":14,"x":487,"y":0.046},{"s":14,"x":493,"y":0.044},{"s":14,"x":500,"y":0.031},{"s":14,"x":515,"y":0.027},{"s":14,"x":550,"y":0.026},
{"s":15,"x":450,"y":0.025},{"s":15,"x":457,"y":0.025},{"s":15,"x":461,"y":0.032},{"s":15,"x":466,"y":0.029},{"s":15,"x":471,"y":0.034},{"s":15,"x":476,"y":0.031},{"s":15,"x":481,"y":0.036},{"s":15,"x":487,"y":0.033},{"s":15,"x":493,"y":0.031},{"s":15,"x":500,"y":0.027},{"s":15,"x":515,"y":0.025},{"s":15,"x":550,"y":0.025},
{"s":2,"x":450,"y":0.025},{"s":2,"x":456,"y":0.025},{"s":2,"x":458,"y":0.028},{"s":2,"x":460,"y":0.035},{"s":2,"x":462,"y":0.03},{"s":2,"x":464,"y":0.035},{"s":2,"x":466,"y":0.03},{"s":2,"x":468,"y":0.035},{"s":2,"x":470,"y":0.04},{"s":2,"x":471,"y":0.045},{"s":2,"x":472,"y":0.05},{"s":2,"x":473,"y":0.056},{"s":2,"x":474,"y":0.08},{"s":2,"x":475,"y":0.16},{"s":2,"x":476,"y":0.12},{"s":2,"x":477,"y":0.243},{"s":2,"x":478,"y":0.17},{"s":2,"x":479,"y":0.265},{"s":2,"x":480,"y":0.127},{"s":2,"x":481,"y":0.21},{"s":2,"x":482,"y":0.14},{"s":2,"x":483,"y":0.194},{"s":2,"x":484,"y":0.13},{"s":2,"x":485,"y":0.183},{"s":2,"x":486,"y":0.13},{"s":2,"x":487,"y":0.19},{"s":2,"x":488,"y":0.13},{"s":2,"x":489,"y":0.186},{"s":2,"x":490,"y":0.12},{"s":2,"x":491,"y":0.17},{"s":2,"x":492,"y":0.11},{"s":2,"x":493,"y":0.15},{"s":2,"x":494,"y":0.09},{"s":2,"x":495,"y":0.11},{"s":2,"x":496,"y":0.06},{"s":2,"x":497,"y":0.07},{"s":2,"x":498,"y":0.04},{"s":2,"x":499,"y":0.05},{"s":2,"x":500,"y":0.032},{"s":2,"x":502,"y":0.035},{"s":2,"x":505,"y":0.03},{"s":2,"x":510,"y":0.027},{"s":2,"x":530,"y":0.027},{"s":2,"x":550,"y":0.026}
]
},
"spacing": 15,
"resolve": {"scale": {"color": "independent"}, "legend": {"color": "independent"}},
"vconcat": [
{
"spacing": 38,
"resolve": {"scale": {"color": "independent"}, "legend": {"color": "independent"}},
"hconcat": [
{
"width": 490, "height": 283,
"data": {"name": "a"},
"title": {"text": "(a) LOI of S-box 15.", "dx": -28},
"mark": {"type": "line"},
"encoding": {
"x": {"field": "x", "type": "quantitative", "title": "Samples", "scale": {"domain": [450, 550], "nice": false, "zero": false}, "axis": {"values": [460, 480, 500, 520, 540]}},
"y": {"field": "y", "type": "quantitative", "title": "SNR", "scale": {"domain": [0, 1.2], "nice": false}, "axis": {"values": [0, 0.2, 0.4, 0.6, 0.8, 1, 1.2], "format": "~g"}},
"color": {"field": "s", "type": "nominal", "scale": {"domain": [0,1,2,3,4,5,6,7,8,9,10,11,12,13,14,15], "range": ["#0072BD","#0072BD","#0072BD","#0072BD","#0072BD","#0072BD","#0072BD","#0072BD","#0072BD","#0072BD","#0072BD","#0072BD","#0072BD","#0072BD","#0072BD","#D95319"]}, "legend": {"title": null, "orient": "none", "legendX": 447, "legendY": 6, "labelExpr": "'S-box ' + datum.label"}}
}
},
{
"width": 479, "height": 283,
"data": {"name": "b"},
"title": {"text": "(b) LOI of S-box 10.", "dx": -28},
"mark": {"type": "line"},
"encoding": {
"x": {"field": "x", "type": "quantitative", "title": "Samples", "scale": {"domain": [450, 548.4], "nice": false, "zero": false}, "axis": {"values": [460, 480, 500, 520, 540]}},
"y": {"field": "y", "type": "quantitative", "title": "SNR", "scale": {"domain": [0, 1.2], "nice": false}, "axis": {"values": [0, 0.2, 0.4, 0.6, 0.8, 1, 1.2], "format": "~g"}},
"color": {"field": "s", "type": "nominal", "scale": {"domain": [0,1,2,3,4,5,6,7,8,9,10,11,12,13,14,15], "range": ["#0072BD","#0072BD","#0072BD","#0072BD","#0072BD","#0072BD","#0072BD","#0072BD","#0072BD","#0072BD","#D95319","#0072BD","#0072BD","#0072BD","#0072BD","#0072BD"]}, "legend": {"title": null, "orient": "none", "legendX": 443, "legendY": 10, "labelExpr": "'S-box ' + datum.label"}}
}
}
]
},
{
"spacing": 38,
"resolve": {"scale": {"color": "independent"}, "legend": {"color": "independent"}},
"hconcat": [
{
"width": 490, "height": 284,
"data": {"name": "c"},
"title": {"text": "(c) LOI of S-box 0.", "dx": -28, "offset": 15},
"mark": {"type": "line"},
"encoding": {
"x": {"field": "x", "type": "quantitative", "title": "Samples", "scale": {"domain": [450, 550], "nice": false, "zero": false}, "axis": {"values": [460, 480, 500, 520, 540]}},
"y": {"field": "y", "type": "quantitative", "title": "SNR", "scale": {"domain": [0, 1.2], "nice": false}, "axis": {"values": [0, 0.2, 0.4, 0.6, 0.8, 1, 1.2], "format": "~g"}},
"color": {"field": "s", "type": "nominal", "scale": {"domain": [0,1,2,3,4,5,6,7,8,9,10,11,12,13,14,15], "range": ["#D95319","#0072BD","#0072BD","#0072BD","#0072BD","#0072BD","#0072BD","#0072BD","#0072BD","#0072BD","#0072BD","#0072BD","#0072BD","#0072BD","#0072BD","#0072BD"]}, "legend": {"title": null, "orient": "none", "legendX": 448, "legendY": 7, "labelExpr": "'S-box ' + datum.label"}}
}
},
{
"width": 479, "height": 284,
"data": {"name": "d"},
"title": {"text": "(d) LOI of S-box 2.", "dx": -28, "offset": 15},
"mark": {"type": "line"},
"encoding": {
"x": {"field": "x", "type": "quantitative", "title": "Samples", "scale": {"domain": [450, 548.3], "nice": false, "zero": false}, "axis": {"values": [460, 480, 500, 520, 540]}},
"y": {"field": "y", "type": "quantitative", "title": "SNR", "scale": {"domain": [0, 1.2], "nice": false}, "axis": {"values": [0, 0.2, 0.4, 0.6, 0.8, 1, 1.2], "format": "~g"}},
"color": {"field": "s", "type": "nominal", "scale": {"domain": [0,1,2,3,4,5,6,7,8,9,10,11,12,13,14,15], "range": ["#0072BD","#0072BD","#D95319","#0072BD","#0072BD","#0072BD","#0072BD","#0072BD","#0072BD","#0072BD","#0072BD","#0072BD","#0072BD","#0072BD","#0072BD","#0072BD"]}, "legend": {"title": null, "orient": "none", "legendX": 448, "legendY": 8, "labelExpr": "'S-box ' + datum.label"}}
}
}
]
}
]
}
